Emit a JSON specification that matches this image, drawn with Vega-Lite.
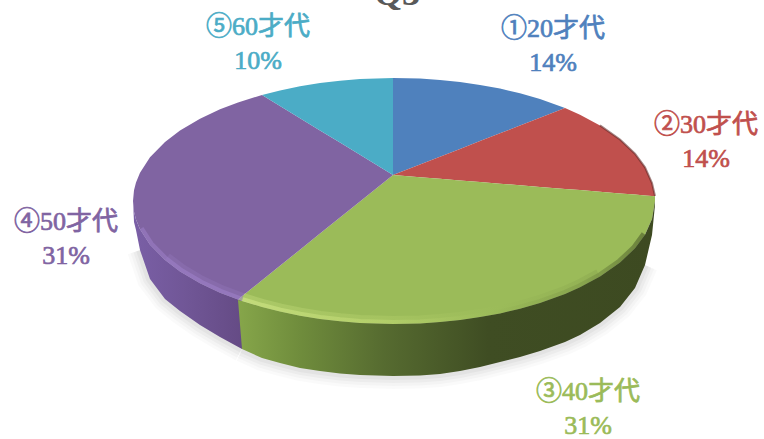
{
"$schema":"https://vega.github.io/schema/vega-lite/v6.json",
"width":764,"height":439,"padding":0,"autosize":{"type":"none"},"background":"white",
"config":{"view":{"stroke":null}},
"datasets":{
"side":[
{"part":"④","x":133,"top":201,"bottom":201},{"part":"④","x":134,"top":211.8,"bottom":222},{"part":"④","x":136,"top":219.6,"bottom":230},{"part":"④","x":140,"top":229.3,"bottom":250},{"part":"④","x":150,"top":244.7,"bottom":279},{"part":"④","x":165,"top":260,"bottom":299},{"part":"④","x":180,"top":271.4,"bottom":311},{"part":"④","x":200,"top":283.3,"bottom":325},{"part":"④","x":220,"top":292.7,"bottom":337},{"part":"④","x":242,"top":301,"bottom":349},
{"part":"③","x":238,"top":300,"bottom":300},{"part":"③","x":242,"top":301,"bottom":349},{"part":"③","x":262,"top":307,"bottom":358},{"part":"③","x":280,"top":311.6,"bottom":363},{"part":"③","x":300,"top":315.7,"bottom":368},{"part":"③","x":320,"top":318.9,"bottom":371},{"part":"③","x":340,"top":321.3,"bottom":373.5},{"part":"③","x":360,"top":323,"bottom":375},{"part":"③","x":393,"top":324,"bottom":376},{"part":"③","x":420,"top":323.4,"bottom":375.5},{"part":"③","x":440,"top":322,"bottom":374},{"part":"③","x":460,"top":320,"bottom":371},{"part":"③","x":480,"top":317,"bottom":367},{"part":"③","x":500,"top":313.4,"bottom":362},{"part":"③","x":520,"top":308.7,"bottom":357},{"part":"③","x":540,"top":303,"bottom":351},{"part":"③","x":565,"top":294,"bottom":342},{"part":"③","x":580,"top":287.3,"bottom":335},{"part":"③","x":600,"top":276.6,"bottom":323},{"part":"③","x":620,"top":262.5,"bottom":307},{"part":"③","x":635,"top":248.3,"bottom":288},{"part":"③","x":645,"top":234.7,"bottom":265},{"part":"③","x":652,"top":219,"bottom":235},{"part":"③","x":655,"top":201,"bottom":205}],
"faces":[
{"slice":"①20才代","x":393,"top":78,"bottom":175},{"slice":"①20才代","x":420,"top":78.6,"bottom":164.5},{"slice":"①20才代","x":440,"top":80,"bottom":156.7},{"slice":"①20才代","x":460,"top":82,"bottom":148.9},{"slice":"①20才代","x":480,"top":85,"bottom":141.1},{"slice":"①20才代","x":500,"top":88.6,"bottom":133.3},{"slice":"①20才代","x":520,"top":93.3,"bottom":125.5},{"slice":"①20才代","x":540,"top":99,"bottom":117.7},{"slice":"①20才代","x":565,"top":108,"bottom":108},
{"slice":"②30才代","x":393,"top":175,"bottom":175},{"slice":"②30才代","x":420,"top":164.5,"bottom":177.2},{"slice":"②30才代","x":440,"top":156.7,"bottom":178.8},{"slice":"②30才代","x":460,"top":148.9,"bottom":180.4},{"slice":"②30才代","x":480,"top":141.1,"bottom":182},{"slice":"②30才代","x":500,"top":133.3,"bottom":183.7},{"slice":"②30才代","x":520,"top":125.5,"bottom":185.3},{"slice":"②30才代","x":540,"top":117.7,"bottom":186.9},{"slice":"②30才代","x":565,"top":108,"bottom":188.9},{"slice":"②30才代","x":580,"top":114.7,"bottom":190.1},{"slice":"②30才代","x":600,"top":125.4,"bottom":191.8},{"slice":"②30才代","x":620,"top":139.5,"bottom":193.4},{"slice":"②30才代","x":635,"top":153.7,"bottom":194.6},{"slice":"②30才代","x":645,"top":167.3,"bottom":195.4},{"slice":"②30才代","x":652,"top":183,"bottom":196},{"slice":"②30才代","x":655,"top":196,"bottom":196.2},
{"slice":"③40才代","x":238,"top":299.6,"bottom":299.6},{"slice":"③40才代","x":262,"top":280.3,"bottom":307},{"slice":"③40才代","x":280,"top":265.8,"bottom":311.6},{"slice":"③40才代","x":300,"top":249.7,"bottom":315.7},{"slice":"③40才代","x":320,"top":233.6,"bottom":318.9},{"slice":"③40才代","x":340,"top":217.5,"bottom":321.3},{"slice":"③40才代","x":360,"top":201.5,"bottom":323},{"slice":"③40才代","x":393,"top":175,"bottom":324},{"slice":"③40才代","x":420,"top":177.2,"bottom":323.4},{"slice":"③40才代","x":440,"top":178.8,"bottom":322},{"slice":"③40才代","x":460,"top":180.4,"bottom":320},{"slice":"③40才代","x":480,"top":182,"bottom":317},{"slice":"③40才代","x":500,"top":183.7,"bottom":313.4},{"slice":"③40才代","x":520,"top":185.3,"bottom":308.7},{"slice":"③40才代","x":540,"top":186.9,"bottom":303},{"slice":"③40才代","x":565,"top":188.9,"bottom":294},{"slice":"③40才代","x":580,"top":190.1,"bottom":287.3},{"slice":"③40才代","x":600,"top":191.8,"bottom":276.6},{"slice":"③40才代","x":620,"top":193.4,"bottom":262.5},{"slice":"③40才代","x":635,"top":194.6,"bottom":248.3},{"slice":"③40才代","x":645,"top":195.4,"bottom":234.7},{"slice":"③40才代","x":652,"top":196,"bottom":219},{"slice":"③40才代","x":655,"top":196.2,"bottom":201},
{"slice":"④50才代","x":133,"top":201,"bottom":201},{"slice":"④50才代","x":134,"top":190.2,"bottom":211.8},{"slice":"④50才代","x":136,"top":182.4,"bottom":219.6},{"slice":"④50才代","x":140,"top":172.7,"bottom":229.3},{"slice":"④50才代","x":150,"top":157.3,"bottom":244.7},{"slice":"④50才代","x":165,"top":142,"bottom":260},{"slice":"④50才代","x":180,"top":130.6,"bottom":271.4},{"slice":"④50才代","x":200,"top":118.7,"bottom":283.3},{"slice":"④50才代","x":220,"top":109.3,"bottom":292.7},{"slice":"④50才代","x":238,"top":102.4,"bottom":299.6},{"slice":"④50才代","x":262,"top":95,"bottom":280.3},{"slice":"④50才代","x":280,"top":106,"bottom":265.8},{"slice":"④50才代","x":300,"top":118.2,"bottom":249.7},{"slice":"④50才代","x":320,"top":130.4,"bottom":233.6},{"slice":"④50才代","x":340,"top":142.6,"bottom":217.5},{"slice":"④50才代","x":360,"top":154.8,"bottom":201.5},{"slice":"④50才代","x":393,"top":175,"bottom":175},
{"slice":"⑤60才代","x":262,"top":95,"bottom":95},{"slice":"⑤60才代","x":280,"top":90.4,"bottom":106},{"slice":"⑤60才代","x":300,"top":86.3,"bottom":118.2},{"slice":"⑤60才代","x":320,"top":83.1,"bottom":130.4},{"slice":"⑤60才代","x":340,"top":80.7,"bottom":142.6},{"slice":"⑤60才代","x":360,"top":79,"bottom":154.8},{"slice":"⑤60才代","x":393,"top":78,"bottom":175}],
"labels":[
{"slice":"①20才代","share":"14%","lx":553,"ly":29},
{"slice":"②30才代","share":"14%","lx":706,"ly":125},
{"slice":"③40才代","share":"31%","lx":588,"ly":392},
{"slice":"④50才代","share":"31%","lx":66,"ly":222},
{"slice":"⑤60才代","share":"10%","lx":258,"ly":27}],
"title":[{"t":"Q3","lx":397,"ly":5}]
},
"encoding":{
"x":{"field":"x","type":"quantitative","axis":null,"scale":{"domain":[0,764],"nice":false,"zero":false}},
"y":{"field":"top","type":"quantitative","axis":null,"scale":{"domain":[439,0],"nice":false,"zero":false}}
},
"layer":[
{"data":{"name":"side"},"transform":[{"filter":"datum.x>=140 && datum.x<=645 && datum.x!=238"}],"mark":{"type":"line","stroke":"#000","strokeWidth":26,"opacity":0.018,"strokeCap":"butt"},"encoding":{"y":{"field":"bottom","type":"quantitative"},"detail":{"field":"part"}}},
{"data":{"name":"side"},"transform":[{"filter":"datum.x>=140 && datum.x<=645 && datum.x!=238"}],"mark":{"type":"line","stroke":"#000","strokeWidth":20,"opacity":0.025,"strokeCap":"butt"},"encoding":{"y":{"field":"bottom","type":"quantitative"},"detail":{"field":"part"}}},
{"data":{"name":"side"},"transform":[{"filter":"datum.x>=140 && datum.x<=645 && datum.x!=238"}],"mark":{"type":"line","stroke":"#000","strokeWidth":14,"opacity":0.03,"strokeCap":"butt"},"encoding":{"y":{"field":"bottom","type":"quantitative"},"detail":{"field":"part"}}},
{"data":{"name":"side"},"transform":[{"filter":"datum.x>=140 && datum.x<=645 && datum.x!=238"}],"mark":{"type":"line","stroke":"#000","strokeWidth":8,"opacity":0.035,"strokeCap":"butt"},"encoding":{"y":{"field":"bottom","type":"quantitative"},"detail":{"field":"part"}}},
{"data":{"name":"faces"},"mark":{"type":"area"},"encoding":{"y2":{"field":"bottom"},"color":{"field":"slice","type":"nominal","legend":null,"scale":{"domain":["①20才代","②30才代","③40才代","④50才代","⑤60才代"],"range":["#4f81bd","#c0504d","#9bbb59","#8064a2","#4bacc6"]}}}},
{"data":{"name":"faces"},"transform":[{"filter":"datum.slice=='②30才代' && datum.x>=600"}],"mark":{"type":"line","stroke":"#5a2422","strokeWidth":2,"opacity":0.55}},
{"data":{"name":"side"},"transform":[{"filter":"datum.part=='④' && datum.x>=165"}],"mark":{"type":"line","strokeWidth":16,"opacity":0.18,"stroke":"#a78ad6","strokeCap":"butt"}},
{"data":{"name":"side"},"transform":[{"filter":"datum.part=='④' && datum.x>=140"}],"mark":{"type":"line","strokeWidth":8,"opacity":0.4,"stroke":"#a78ad6","strokeCap":"butt"}},
{"data":{"name":"side"},"transform":[{"filter":"datum.part=='③' && datum.x!=238 && datum.x<=600"}],"mark":{"type":"line","strokeWidth":16,"opacity":0.3,"strokeCap":"butt","stroke":{"x1":0,"y1":0,"x2":1,"y2":0,"gradient":"linear","stops":[{"offset":0,"color":"#d2e888"},{"offset":0.4,"color":"#bcd670"},{"offset":0.72,"color":"#9bbb59"},{"offset":1,"color":"#7f9a48"}]}}},
{"data":{"name":"side"},"transform":[{"filter":"datum.part=='③' && datum.x!=238 && datum.x<=645"}],"mark":{"type":"line","strokeWidth":8,"opacity":0.6,"strokeCap":"butt","stroke":{"x1":0,"y1":0,"x2":1,"y2":0,"gradient":"linear","stops":[{"offset":0,"color":"#d2e888"},{"offset":0.35,"color":"#bcd670"},{"offset":0.62,"color":"#9bbb59"},{"offset":0.85,"color":"#7f9a48"},{"offset":1,"color":"#4a5a28"}]}}},
{"data":{"name":"side"},"transform":[{"filter":"datum.part=='④'"}],"mark":{"type":"area","fill":{"x1":0,"y1":0,"x2":1,"y2":0,"gradient":"linear","stops":[{"offset":0,"color":"#7a5fa6"},{"offset":0.5,"color":"#705696"},{"offset":1,"color":"#654b85"}]}},"encoding":{"y2":{"field":"bottom"}}},
{"data":{"name":"side"},"transform":[{"filter":"datum.part=='③'"}],"mark":{"type":"area","fill":{"x1":0,"y1":0,"x2":1,"y2":0,"gradient":"linear","stops":[{"offset":0,"color":"#86a64a"},{"offset":0.15,"color":"#6f8c3c"},{"offset":0.35,"color":"#566b30"},{"offset":0.6,"color":"#3f4d23"},{"offset":1,"color":"#3d4a21"}]}},"encoding":{"y2":{"field":"bottom"}}},
{"data":{"name":"labels"},"mark":{"type":"text","font":"Liberation Serif, Noto Sans CJK JP","fontSize":26,"fontWeight":"normal","strokeWidth":0.7,"align":"center","baseline":"middle"},"encoding":{"x":{"field":"lx","type":"quantitative"},"y":{"field":"ly","type":"quantitative"},"text":{"field":"slice"},"color":{"field":"slice","type":"nominal","legend":null},"stroke":{"field":"slice","type":"nominal","legend":null,"scale":{"domain":["①20才代","②30才代","③40才代","④50才代","⑤60才代"],"range":["#4f81bd","#c0504d","#9bbb59","#8064a2","#4bacc6"]}}}},
{"data":{"name":"labels"},"mark":{"type":"text","font":"Liberation Serif, Noto Sans CJK JP","fontSize":26,"fontWeight":"normal","strokeWidth":0.7,"align":"center","baseline":"middle","dy":34},"encoding":{"x":{"field":"lx","type":"quantitative"},"y":{"field":"ly","type":"quantitative"},"text":{"field":"share"},"color":{"field":"slice","type":"nominal","legend":null},"stroke":{"field":"slice","type":"nominal","legend":null}}},
{"data":{"name":"title"},"mark":{"type":"text","font":"Liberation Serif","fontSize":36,"fontWeight":"bold","align":"center","baseline":"alphabetic","color":"#595959"},"encoding":{"x":{"field":"lx","type":"quantitative"},"y":{"field":"ly","type":"quantitative"},"text":{"field":"t"}}}
]
}
